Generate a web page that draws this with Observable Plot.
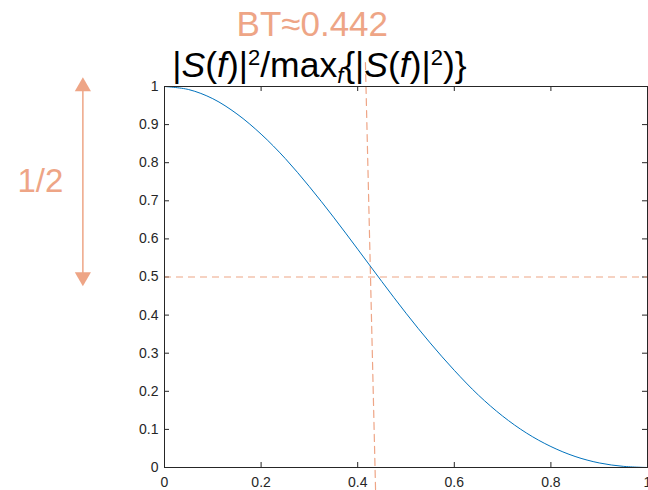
<!DOCTYPE html>
<html>
<head>
<meta charset="utf-8">
<script src="https://cdn.jsdelivr.net/npm/d3@7"></script>
<script src="https://cdn.jsdelivr.net/npm/@observablehq/plot@0.6"></script>
<style>
  html, body { margin: 0; padding: 0; background: #fff; }
  #chart svg { display: block; }
</style>
</head>
<body>
<div id="chart"></div>
<script>
// Curve samples (normalized frequency BT vs normalized power)
const freq  = [0, 0.05, 0.10, 0.15, 0.20, 0.25, 0.30, 0.35, 0.40, 0.45, 0.50, 0.55, 0.60, 0.65, 0.70, 0.75, 0.80, 0.85, 0.90, 0.95, 1.0];
const power = [1, 0.992, 0.968, 0.928, 0.875, 0.811, 0.737, 0.657, 0.573, 0.488, 0.405, 0.327, 0.255, 0.190, 0.135, 0.090, 0.055, 0.029, 0.012, 0.003, 0];

const xTicks = [0, 0.2, 0.4, 0.6, 0.8, 1];
const yTicks = [0, 0.1, 0.2, 0.3, 0.4, 0.5, 0.6, 0.7, 0.8, 0.9, 1];

// Annotations
const halfLevel = [0.5];
const btLabel = ["BT≈0.442"];
const btGuide = [{x: 0.416, y: 1.063}, {x: 0.437, y: -0.060}];
const halfArrow = {x: -0.169, top: 1.0, bottom: 0.5};
const halfLabel = ["1/2"];

const accent = "#EEA586";
const blue = "#0072BD";
const ink = "#262626";
const font = "'Liberation Sans', Arial, Helvetica, sans-serif";

const W = 648, H = 490;
const mL = 164, mR = 1, mT = 86, mB = 23;
const fw = W - mL - mR, fh = H - mT - mB;

const data = freq.map((f, i) => ({f, p: power[i]}));

const chart = Plot.plot({
  width: W,
  height: H,
  marginLeft: mL,
  marginRight: mR,
  marginTop: mT,
  marginBottom: mB,
  style: {fontFamily: font, fontSize: "14px", color: ink, background: "#fff", overflow: "visible"},
  x: {domain: [0, 1]},
  y: {domain: [0, 1]},
  marks: [
    Plot.axisX({ticks: xTicks, tickSize: 0, tickPadding: 10, tickFormat: d => String(d), label: null, fontSize: 14}),
    Plot.axisY({ticks: yTicks, tickSize: 0, tickPadding: 6, tickFormat: d => String(d), label: null, fontSize: 14}),
    // inward ticks on all four sides
    Plot.tickX(xTicks, {x: d => d, insetTop: fh - 5, stroke: ink}),
    Plot.tickX(xTicks, {x: d => d, insetBottom: fh - 5, stroke: ink}),
    Plot.tickY(yTicks, {y: d => d, insetRight: fw - 5, stroke: ink}),
    Plot.tickY(yTicks, {y: d => d, insetLeft: fw - 5, stroke: ink}),
    Plot.ruleY(halfLevel, {stroke: accent, strokeWidth: 1.2, strokeDasharray: "7,5"}),
    Plot.line(btGuide, {x: "x", y: "y", stroke: accent, strokeWidth: 1.2, strokeDasharray: "7,5"}),
    Plot.line(data, {x: "f", y: "p", stroke: blue, strokeWidth: 1, curve: "catmull-rom"}),
    Plot.frame({stroke: ink}),
    // half-power arrow
    Plot.link([halfArrow], {x1: "x", x2: "x", y1: "top", y2: "bottom", stroke: accent, strokeWidth: 1.5}),
    Plot.dot([halfArrow], {x: "x", y: "top", symbol: "triangle", r: 6, fill: accent, stroke: null}),
    Plot.dot([halfArrow], {x: "x", y: "bottom", symbol: "triangle", r: 6, fill: accent, stroke: null, rotate: 180}),
    Plot.text(halfLabel, {x: -0.257, y: 0.75, text: d => d, fill: accent, fontSize: 33, textAnchor: "middle"}),
    Plot.text(btLabel, {x: 0.306, y: 1.162, text: d => d, fill: accent, fontSize: 35, textAnchor: "middle"})
  ]
});

document.getElementById("chart").appendChild(chart);

// Title with italic symbols, superscripts and subscript
const svg = d3.select(chart);
const title = svg.append("text")
  .attr("x", 319.5)
  .attr("y", 77)
  .attr("text-anchor", "middle")
  .attr("font-family", font)
  .attr("font-size", 35.5)
  .attr("fill", "#000");
const parts = [
  {t: "|"}, {t: "S", i: true}, {t: "("}, {t: "f", i: true}, {t: ")|"},
  {t: "2", sup: true}, {t: "/max"}, {t: "f", i: true, sub: true},
  {t: "{|"}, {t: "S", i: true}, {t: "("}, {t: "f", i: true}, {t: ")|"},
  {t: "2", sup: true}, {t: ")}"}
];
let shift = 0;
for (const p of parts) {
  const target = p.sup ? -12 : p.sub ? 6 : 0;
  const ts = title.append("tspan").text(p.t);
  if (target !== shift) { ts.attr("dy", target - shift); shift = target; }
  if (p.i) ts.attr("font-style", "italic");
  if (p.sup || p.sub) ts.attr("font-size", 22);
}
</script>
</body>
</html>
